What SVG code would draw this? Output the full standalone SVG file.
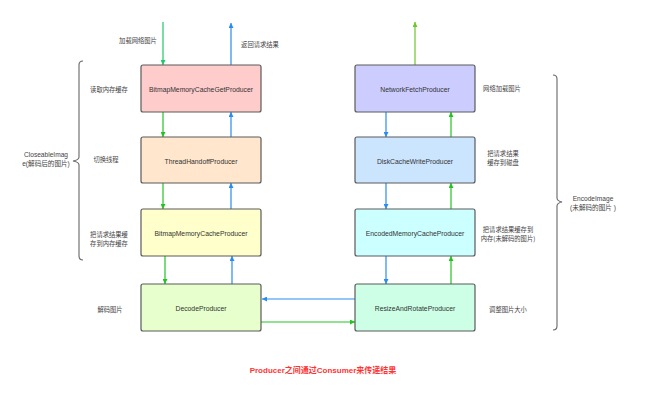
<svg xmlns="http://www.w3.org/2000/svg" width="650" height="410" viewBox="0 0 650 410">
<style>
.box{stroke:#5a5a5a;stroke-width:1.2}
.lbl{font-family:"Liberation Sans","Noto Sans CJK SC",sans-serif;font-size:6.8px;fill:#333;text-anchor:middle;dominant-baseline:central}
.note{font-family:"Noto Sans CJK SC","Liberation Sans",sans-serif;font-size:6.3px;fill:#444;text-anchor:middle;dominant-baseline:central}
.cn{font-family:"Liberation Sans","Noto Sans CJK SC",sans-serif;font-size:6.6px;fill:#444;text-anchor:middle;dominant-baseline:central}
.g{stroke:#22c322;stroke-width:1.2;fill:none;marker-end:url(#ag)}
.b{stroke:#2a8cf0;stroke-width:1.2;fill:none;marker-end:url(#ab)}
.brace{stroke:#666;stroke-width:1.1;fill:none}
</style>
<defs>
<marker id="ag" viewBox="0 0 10 10" refX="10" refY="5" markerWidth="5" markerHeight="5" orient="auto" markerUnits="userSpaceOnUse"><path d="M0,0 L10,5 L0,10 z" fill="#22c322"/></marker>
<marker id="ab" viewBox="0 0 10 10" refX="10" refY="5" markerWidth="5" markerHeight="5" orient="auto" markerUnits="userSpaceOnUse"><path d="M0,0 L10,5 L0,10 z" fill="#2a8cf0"/></marker>
<marker id="at" viewBox="0 0 10 10" refX="10" refY="5" markerWidth="5" markerHeight="5" orient="auto" markerUnits="userSpaceOnUse"><path d="M0,0 L10,5 L0,10 z" fill="#1fc86a"/></marker>
<marker id="al" viewBox="0 0 10 10" refX="10" refY="5" markerWidth="5" markerHeight="5" orient="auto" markerUnits="userSpaceOnUse"><path d="M0,0 L10,5 L0,10 z" fill="#6cc72a"/></marker>
</defs>
<rect width="650" height="410" fill="#fff"/>

<g id="connectors">
<line x1="163" y1="22" x2="163" y2="65" stroke="#1fc86a" stroke-width="1.2" marker-end="url(#at)"/>
<line class="b" x1="231" y1="65" x2="231" y2="23"/>
<line class="g" x1="163" y1="112" x2="163" y2="137"/>
<line class="b" x1="231" y1="137" x2="231" y2="112"/>
<line class="g" x1="163" y1="183" x2="163" y2="209"/>
<line class="b" x1="231" y1="209" x2="231" y2="183"/>
<line class="g" x1="165" y1="256" x2="165" y2="284"/>
<line class="b" x1="232" y1="284" x2="232" y2="256"/>
<line x1="415" y1="65" x2="415" y2="22" stroke="#6cc72a" stroke-width="1.2" marker-end="url(#al)"/>
<line class="b" x1="386" y1="112" x2="386" y2="137"/>
<line class="g" x1="451" y1="137" x2="451" y2="112"/>
<line class="b" x1="386" y1="183" x2="386" y2="209"/>
<line class="g" x1="451" y1="209" x2="451" y2="183"/>
<line class="b" x1="386" y1="256" x2="386" y2="284"/>
<line class="g" x1="451" y1="284" x2="451" y2="256"/>
<line class="b" x1="355" y1="299" x2="262" y2="299"/>
<line class="g" x1="261" y1="322" x2="355" y2="322"/>
</g>

<g id="n1"><rect class="box" x="141" y="65" width="120" height="47" rx="2" fill="#ffcccc"/><text class="lbl" x="201" y="89">BitmapMemoryCacheGetProducer</text></g>
<g id="n2"><rect class="box" x="141" y="137" width="120" height="46" rx="2" fill="#ffe6cc"/><text class="lbl" x="201" y="161">ThreadHandoffProducer</text></g>
<g id="n3"><rect class="box" x="141" y="209" width="120" height="47" rx="2" fill="#ffffcc"/><text class="lbl" x="201" y="233">BitmapMemoryCacheProducer</text></g>
<g id="n4"><rect class="box" x="141" y="284" width="120" height="47" rx="2" fill="#e6ffcc"/><text class="lbl" x="201" y="308">DecodeProducer</text></g>
<g id="n5"><rect class="box" x="355" y="65" width="120" height="47" rx="2" fill="#ccccff"/><text class="lbl" x="415" y="89">NetworkFetchProducer</text></g>
<g id="n6"><rect class="box" x="355" y="137" width="120" height="46" rx="2" fill="#cce5ff"/><text class="lbl" x="415" y="161">DiskCacheWriteProducer</text></g>
<g id="n7"><rect class="box" x="355" y="209" width="120" height="47" rx="2" fill="#ccffff"/><text class="lbl" x="415" y="233">EncodedMemoryCacheProducer</text></g>
<g id="n8"><rect class="box" x="355" y="284" width="120" height="47" rx="2" fill="#ccffe6"/><text class="lbl" x="415" y="308">ResizeAndRotateProducer</text></g>

<g id="braces">
<path class="brace" d="M83,61 Q79,61 79,65 L79,157 Q79,160 73,161 Q79,162 79,165 L79,256 Q79,260 83,260"/>
<path class="brace" d="M553,75 Q557,75 557,79 L557,198 Q557,201 562,202 Q557,203 557,206 L557,326 Q557,330 553,330"/>
</g>

<g id="notes">
<text class="note" x="138" y="40">加载网络图片</text>
<text class="note" x="260" y="44">返回请求结果</text>
<text class="note" x="109" y="89">读取内存缓存</text>
<text class="note" x="106" y="159">切换线程</text>
<text class="note" x="109" y="234">把请求结果缓</text>
<text class="note" x="109" y="243">存到内存缓存</text>
<text class="note" x="110" y="309">解码图片</text>
<text class="cn" x="46" y="154.5">CloseableImag</text>
<text class="cn" x="46" y="163.5">e(解码后的图片)</text>
<text class="note" x="502" y="88">网络加载图片</text>
<text class="note" x="503" y="153.5">把请求结果</text>
<text class="note" x="503" y="162.5">缓存到磁盘</text>
<text class="note" x="508" y="229">把请求结果缓存到</text>
<text class="note" x="508" y="238">内存(未解码的图片)</text>
<text class="note" x="508" y="309">调整图片大小</text>
<text class="cn" x="593" y="198.5">EncodeImage</text>
<text class="cn" x="593" y="207.5">(未解码的图片 )</text>
<text x="323" y="370" font-family="'Liberation Sans','Noto Sans CJK SC',sans-serif" font-size="8px" font-weight="bold" fill="#ff3333" text-anchor="middle" dominant-baseline="central">Producer之间通过Consumer来传递结果</text>
</g>
</svg>
